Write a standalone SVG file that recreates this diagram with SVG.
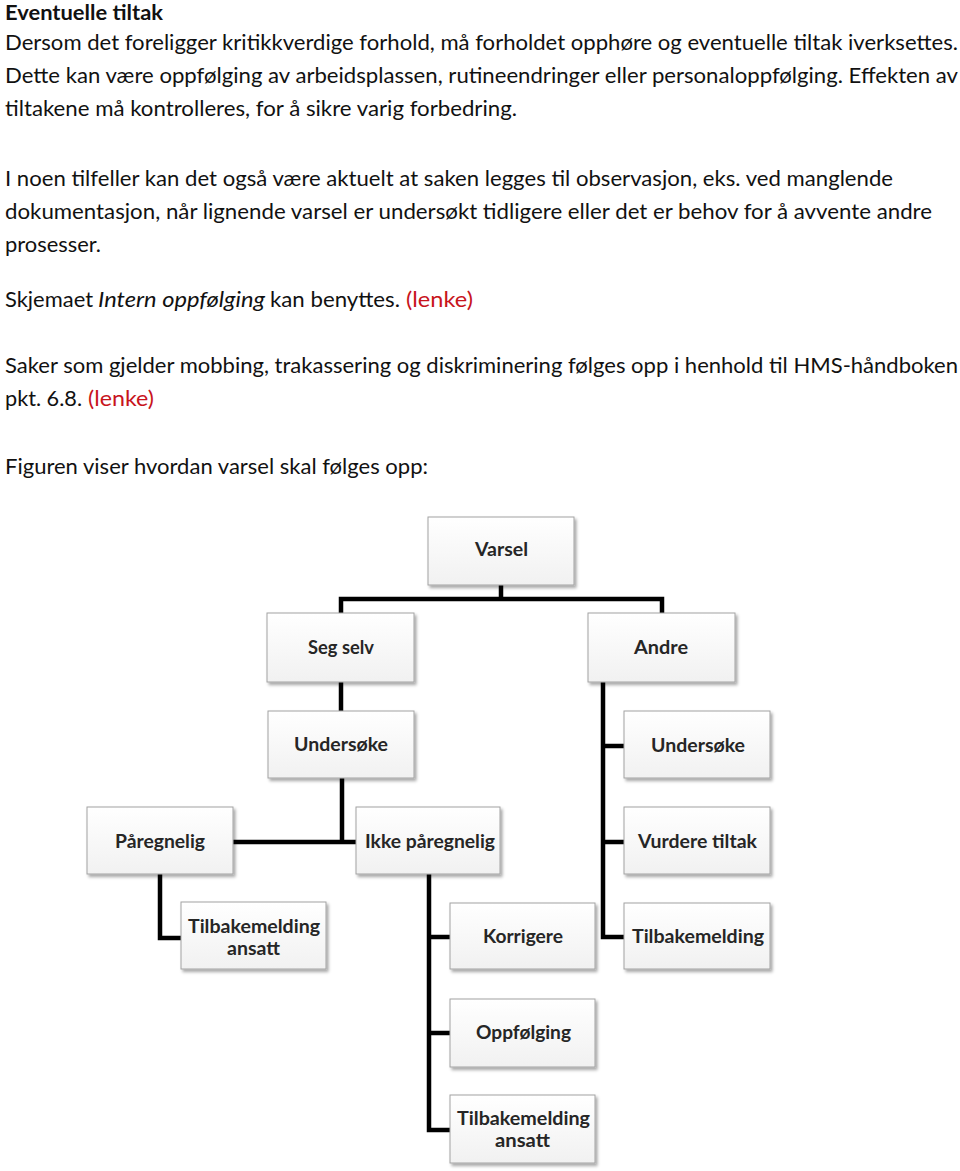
<svg xmlns="http://www.w3.org/2000/svg" width="960" height="1171" viewBox="0 0 960 1171">
<style>
.p{font-family:Lato,"Open Sans","Liberation Sans",sans-serif;font-size:21px;fill:#111}
.h{font-weight:bold}
.i{font-style:italic}
.r{fill:#c8141c}
.bx{fill:url(#g);stroke:#a2a2a2;stroke-width:1;filter:url(#sh)}
.lb{font-family:Lato,"Open Sans","Liberation Sans",sans-serif;font-size:18px;font-weight:bold;fill:#262626;text-anchor:middle}
.c{fill:none;stroke:#000;stroke-width:4.5;stroke-linejoin:miter;stroke-linecap:square}
</style>
<defs>
<linearGradient id="g" x1="0" y1="0" x2="0" y2="1">
<stop offset="0" stop-color="#ffffff"/>
<stop offset="1" stop-color="#f1f1f1"/>
</linearGradient>
<filter id="sh" x="-10%" y="-10%" width="125%" height="130%">
<feDropShadow dx="2" dy="2.5" stdDeviation="1.5" flood-color="#000" flood-opacity="0.35"/>
</filter>
</defs>
<rect width="960" height="1171" fill="#fff"/>
<g id="text">
<text class="p h" x="5" y="20" textLength="158" lengthAdjust="spacingAndGlyphs">Eventuelle tiltak</text>
<text class="p" x="5" y="50" textLength="953" lengthAdjust="spacingAndGlyphs">Dersom det foreligger kritikkverdige forhold, må forholdet opphøre og eventuelle tiltak iverksettes.</text>
<text class="p" x="5" y="83" textLength="953" lengthAdjust="spacingAndGlyphs">Dette kan være oppfølging av arbeidsplassen, rutineendringer eller personaloppfølging. Effekten av</text>
<text class="p" x="5" y="116" textLength="512" lengthAdjust="spacingAndGlyphs">tiltakene må kontrolleres, for å sikre varig forbedring.</text>
<text class="p" x="5" y="186" textLength="888" lengthAdjust="spacingAndGlyphs">I noen tilfeller kan det også være aktuelt at saken legges til observasjon, eks. ved manglende</text>
<text class="p" x="5" y="219" textLength="927" lengthAdjust="spacingAndGlyphs">dokumentasjon, når lignende varsel er undersøkt tidligere eller det er behov for å avvente andre</text>
<text class="p" x="5" y="252" textLength="96" lengthAdjust="spacingAndGlyphs">prosesser.</text>
<text class="p" x="5" y="307" textLength="88" lengthAdjust="spacingAndGlyphs">Skjemaet</text>
<text class="p i" x="98" y="307" textLength="167" lengthAdjust="spacingAndGlyphs">Intern oppfølging</text>
<text class="p" x="270" y="307" textLength="130" lengthAdjust="spacingAndGlyphs">kan benyttes.</text>
<text class="p r" x="406" y="307" textLength="67" lengthAdjust="spacingAndGlyphs">(lenke)</text>
<text class="p" x="5" y="373" textLength="953" lengthAdjust="spacingAndGlyphs">Saker som gjelder mobbing, trakassering og diskriminering følges opp i henhold til HMS-håndboken</text>
<text class="p" x="5" y="406" textLength="77" lengthAdjust="spacingAndGlyphs">pkt. 6.8.</text>
<text class="p r" x="88" y="406" textLength="66" lengthAdjust="spacingAndGlyphs">(lenke)</text>
<text class="p" x="5" y="474" textLength="423" lengthAdjust="spacingAndGlyphs">Figuren viser hvordan varsel skal følges opp:</text>
</g>
<g id="connectors">
<path class="c" d="M501 585 V599 M341 613 V599 H662 V613"/>
<path class="c" d="M341 682 V711"/>
<path class="c" d="M342 778 V842 M233 842 H356"/>
<path class="c" d="M160 874 V938 H181"/>
<path class="c" d="M429 874 V1130 H450 M429 937 H450 M429 1033 H450"/>
<path class="c" d="M603 682 V937 H624 M603 746 H624 M603 842 H624"/>
</g>
<g id="n-varsel"><rect class="bx" x="428" y="517" width="146" height="68"/><text class="lb" x="501.5" y="556" textLength="53" lengthAdjust="spacingAndGlyphs">Varsel</text></g>
<g id="n-segselv"><rect class="bx" x="267" y="613" width="147" height="69"/><text class="lb" x="341" y="654" textLength="66" lengthAdjust="spacingAndGlyphs">Seg selv</text></g>
<g id="n-andre"><rect class="bx" x="588" y="613" width="147" height="69"/><text class="lb" x="661" y="654" textLength="54" lengthAdjust="spacingAndGlyphs">Andre</text></g>
<g id="n-undersoke1"><rect class="bx" x="268" y="711" width="146" height="67"/><text class="lb" x="341" y="751" textLength="94" lengthAdjust="spacingAndGlyphs">Undersøke</text></g>
<g id="n-undersoke2"><rect class="bx" x="624" y="711" width="146" height="67"/><text class="lb" x="698" y="752" textLength="94" lengthAdjust="spacingAndGlyphs">Undersøke</text></g>
<g id="n-paregnelig"><rect class="bx" x="87" y="807" width="146" height="67"/><text class="lb" x="160" y="848" textLength="90" lengthAdjust="spacingAndGlyphs">Påregnelig</text></g>
<g id="n-ikkeparegnelig"><rect class="bx" x="356" y="807" width="144" height="67"/><text class="lb" x="430" y="848" textLength="130" lengthAdjust="spacingAndGlyphs">Ikke påregnelig</text></g>
<g id="n-vurdere"><rect class="bx" x="624" y="807" width="146" height="67"/><text class="lb" x="697.5" y="848" textLength="119" lengthAdjust="spacingAndGlyphs">Vurdere tiltak</text></g>
<g id="n-tilbake1"><rect class="bx" x="181" y="902" width="145" height="67"/><text class="lb" x="254" y="933" textLength="132" lengthAdjust="spacingAndGlyphs">Tilbakemelding</text><text class="lb" x="253.5" y="955" textLength="53" lengthAdjust="spacingAndGlyphs">ansatt</text></g>
<g id="n-korrigere"><rect class="bx" x="450" y="903" width="145" height="66"/><text class="lb" x="523" y="943" textLength="80" lengthAdjust="spacingAndGlyphs">Korrigere</text></g>
<g id="n-tilbake2"><rect class="bx" x="624" y="903" width="146" height="66"/><text class="lb" x="698" y="943" textLength="132" lengthAdjust="spacingAndGlyphs">Tilbakemelding</text></g>
<g id="n-oppfolging"><rect class="bx" x="450" y="999" width="145" height="68"/><text class="lb" x="523.5" y="1039" textLength="95" lengthAdjust="spacingAndGlyphs">Oppfølging</text></g>
<g id="n-tilbake3"><rect class="bx" x="450" y="1095" width="145" height="68"/><text class="lb" x="523.5" y="1125" textLength="133" lengthAdjust="spacingAndGlyphs">Tilbakemelding</text><text class="lb" x="522.5" y="1147" textLength="55" lengthAdjust="spacingAndGlyphs">ansatt</text></g>
</svg>
